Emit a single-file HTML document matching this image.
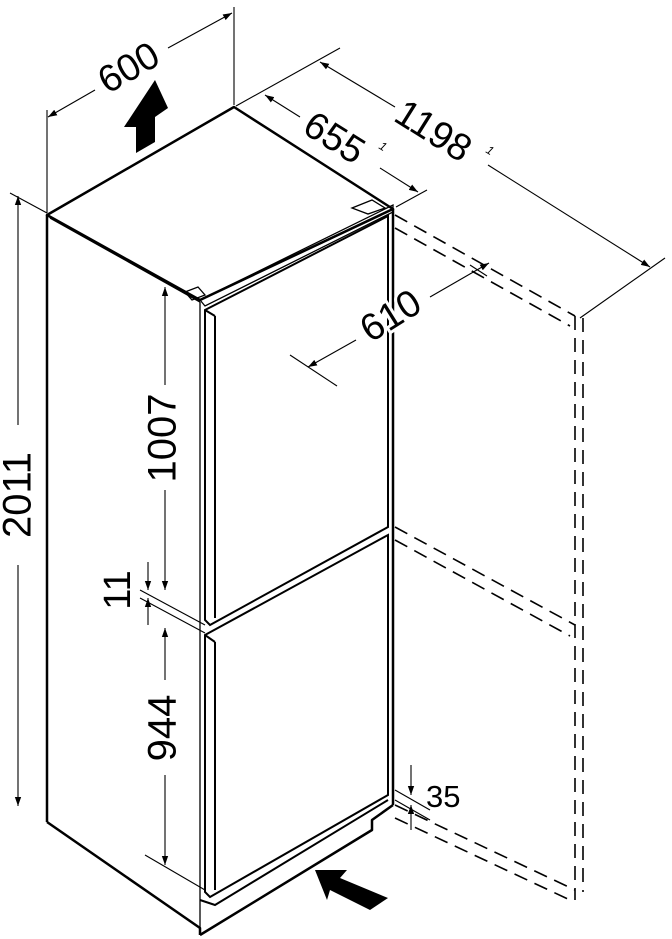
<!DOCTYPE html>
<html><head><meta charset="utf-8"><style>
html,body{margin:0;padding:0;background:#fff}
svg{display:block}
text{font-family:"Liberation Sans",sans-serif;fill:#000}
.lb{paint-order:stroke;stroke:#fff;stroke-width:6px}
</style></head><body>
<svg width="672" height="939" viewBox="0 0 672 939" xmlns="http://www.w3.org/2000/svg">
<defs>
<marker id="a" viewBox="0 0 10 10" refX="10" refY="5" markerWidth="9" markerHeight="9" orient="auto-start-reverse" markerUnits="userSpaceOnUse"><path d="M0,1.5L10,5L0,8.5z" fill="#000"/></marker>
</defs>
<g fill="none" stroke="#000">
<g stroke-width="1.6" stroke-dasharray="14,8">
<line x1="395" y1="215" x2="575" y2="316"/>
<line x1="395" y1="228" x2="570" y2="326"/>
<line x1="395" y1="527" x2="575" y2="625"/>
<line x1="395" y1="540" x2="570" y2="636"/>
<line x1="395" y1="805" x2="575" y2="890"/>
<line x1="395" y1="818" x2="570" y2="900"/>
<line x1="575" y1="316" x2="575" y2="900"/>
<line x1="583" y1="318" x2="583" y2="892"/>
</g>
<g stroke-width="2.5" stroke-linejoin="round">
<polygon points="47,215 234,107 393,209 200,300" fill="#fff"/>
<line x1="47" y1="215" x2="47" y2="822"/>
<line x1="393" y1="209" x2="393" y2="805"/>
<polyline points="47,822 200,928 200,935"/>
<polyline points="200,935 372,830 372,820 393,805"/>
</g>
<g stroke-width="1.3">
<line x1="50" y1="218" x2="200" y2="302"/>
<line x1="200" y1="302" x2="200" y2="930"/>
<polygon points="200,300 393,205 393,212 205,306"/>
<polygon points="352,208 372,200 385,208 368,214"/>
<polygon points="185,292 198,287 205,295 192,300"/>
</g>
<g stroke-width="2">
<polygon points="205,310 388,216 388,527 210,625 205,620" fill="#fff"/>
<line x1="215" y1="316" x2="215" y2="618"/>
<line x1="205" y1="310" x2="215" y2="316"/>
<polygon points="205,635 388,535 388,795 210,897 205,892" fill="#fff"/>
<line x1="215" y1="642" x2="215" y2="890"/>
<line x1="205" y1="635" x2="215" y2="642"/>
<polyline points="200,900 215,905 388,800"/>
</g>
<g stroke-width="1.1">
<line x1="47" y1="110" x2="47" y2="213"/>
<line x1="234" y1="7" x2="234" y2="105"/>
<line x1="48" y1="117" x2="95" y2="90" marker-start="url(#a)"/>
<line x1="168" y1="48" x2="232" y2="13" marker-end="url(#a)"/>
<line x1="236" y1="106" x2="340" y2="48"/>
<line x1="396" y1="207" x2="427" y2="190"/>
<line x1="580" y1="318" x2="665" y2="258"/>
<line x1="265" y1="95" x2="300" y2="117" marker-start="url(#a)"/>
<line x1="380" y1="168" x2="418" y2="192" marker-end="url(#a)"/>
<line x1="320" y1="62" x2="395" y2="107" marker-start="url(#a)"/>
<line x1="488" y1="165" x2="650" y2="267" marker-end="url(#a)"/>
<line x1="430" y1="297" x2="489" y2="263" marker-end="url(#a)"/>
<line x1="470" y1="265" x2="487" y2="276"/>
<line x1="356" y1="340" x2="308" y2="367" marker-end="url(#a)"/>
<line x1="290" y1="355" x2="337" y2="386"/>
<line x1="10" y1="193" x2="47" y2="213"/>
<line x1="18" y1="196" x2="18" y2="425" marker-start="url(#a)"/>
<line x1="18" y1="565" x2="18" y2="806" marker-end="url(#a)"/>
<line x1="165" y1="287" x2="165" y2="385" marker-start="url(#a)"/>
<line x1="165" y1="490" x2="165" y2="590" marker-end="url(#a)"/>
<line x1="140" y1="590" x2="205" y2="625"/>
<line x1="140" y1="598" x2="205" y2="633"/>
<line x1="148" y1="562" x2="148" y2="590" marker-end="url(#a)"/>
<line x1="148" y1="625" x2="148" y2="598" marker-end="url(#a)"/>
<line x1="165" y1="628" x2="165" y2="680" marker-start="url(#a)"/>
<line x1="165" y1="775" x2="165" y2="865" marker-end="url(#a)"/>
<line x1="145" y1="855" x2="205" y2="890"/>
<line x1="395" y1="790" x2="430" y2="810"/>
<line x1="395" y1="800" x2="430" y2="820"/>
<line x1="411" y1="765" x2="411" y2="795" marker-end="url(#a)"/>
<line x1="411" y1="830" x2="411" y2="805" marker-end="url(#a)"/>
</g>
</g>
<polygon points="155,80 124,127 136,127 136,153 155,142 155,117 168,108" fill="#000"/>
<polygon points="315,870 347,870 340,878 388,898 370,910 330,890 327,900" fill="#000"/>
<text font-size="38" transform="translate(130,70) rotate(-30)" text-anchor="middle" dominant-baseline="middle">600</text>
<text font-size="38" transform="translate(333,140) rotate(32)" text-anchor="middle" dominant-baseline="middle">655</text>
<text font-size="12" font-style="italic" transform="translate(378,148) rotate(32)">1</text>
<text font-size="38" transform="translate(432,133) rotate(32)" text-anchor="middle" dominant-baseline="middle">1198</text>
<text font-size="12" font-style="italic" transform="translate(485,152) rotate(32)">1</text>
<text class="lb" font-size="38" transform="translate(392,318) rotate(-32)" text-anchor="middle" dominant-baseline="middle">610</text>
<text font-size="40" transform="translate(20,495) rotate(-90)" text-anchor="middle" dominant-baseline="middle">2011</text>
<text font-size="40" transform="translate(165,438) rotate(-90)" text-anchor="middle" dominant-baseline="middle">1007</text>
<text font-size="38" transform="translate(120,590) rotate(-90)" text-anchor="middle" dominant-baseline="middle">11</text>
<text font-size="40" transform="translate(165,728) rotate(-90)" text-anchor="middle" dominant-baseline="middle">944</text>
<text font-size="31" x="426" y="807">35</text>
</svg>
</body></html>
